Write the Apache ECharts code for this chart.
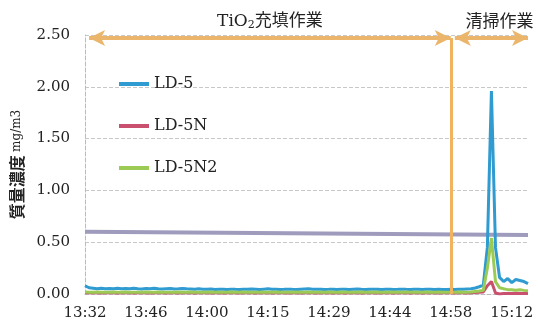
<!DOCTYPE html>
<html>
<head>
<meta charset="utf-8">
<script src="https://cdn.jsdelivr.net/npm/echarts@6/dist/echarts.min.js"></script>
<style>html,body{margin:0;padding:0;background:#fff}#c{width:538px;height:329px}</style>
</head>
<body>
<div id="c"></div>
<script>
// Tick labels (every 15 samples)
const tickLabels = ['13:32','13:46','14:00','14:15','14:29','14:44','14:58','15:12'];
const samplesPerTick = 15;
const sampleCount = 110;
const categories = [];
for (let i = 0; i < sampleCount; i++) {
  const t = Math.floor(i / samplesPerTick);
  categories.push(i % samplesPerTick === 0 ? tickLabels[t] : tickLabels[t] + '+' + (i % samplesPerTick));
}

const ld5 = [
  0.08,0.06,0.055,0.05,0.055,0.05,0.052,0.05,0.055,0.05,
  0.052,0.05,0.055,0.05,0.048,0.052,0.05,0.055,0.05,0.048,
  0.05,0.052,0.048,0.05,0.053,0.05,0.048,0.045,0.05,0.047,
  0.045,0.048,0.044,0.046,0.045,0.043,0.047,0.045,0.044,0.046,
  0.045,0.048,0.046,0.044,0.047,0.05,0.045,0.046,0.044,0.045,
  0.047,0.045,0.044,0.046,0.048,0.05,0.047,0.045,0.046,0.044,
  0.045,0.047,0.044,0.046,0.045,0.043,0.046,0.048,0.045,0.044,
  0.046,0.045,0.047,0.044,0.045,0.046,0.044,0.045,0.047,0.045,
  0.044,0.046,0.045,0.043,0.045,0.046,0.044,0.045,0.043,0.044,
  0.045,0.044,0.046,0.045,0.048,0.05,0.058,0.07,0.085,0.45,
  1.96,0.45,0.16,0.12,0.15,0.11,0.14,0.13,0.12,0.10
];
const ld5N = [
  0.012,0.012,0.011,0.012,0.010,0.012,0.011,0.012,0.010,0.011,
  0.012,0.011,0.010,0.012,0.011,0.012,0.010,0.011,0.012,0.011,
  0.010,0.012,0.011,0.010,0.012,0.011,0.012,0.010,0.011,0.012,
  0.011,0.010,0.012,0.011,0.010,0.012,0.011,0.012,0.010,0.011,
  0.012,0.011,0.010,0.012,0.011,0.012,0.010,0.011,0.012,0.011,
  0.010,0.012,0.011,0.010,0.012,0.011,0.012,0.010,0.011,0.012,
  0.011,0.010,0.012,0.011,0.010,0.012,0.011,0.012,0.010,0.011,
  0.012,0.011,0.010,0.012,0.011,0.012,0.010,0.011,0.012,0.011,
  0.010,0.012,0.011,0.010,0.012,0.011,0.012,0.010,0.011,0.012,
  0.011,0.010,0.012,0.011,0.010,0.012,0.014,0.016,0.02,0.08,
  0.12,0.01,0.0,0.004,0.006,0.005,0.007,0.006,0.005,0.006
];
const ld5N2 = [
  0.02,0.018,0.017,0.019,0.018,0.016,0.018,0.019,0.017,0.018,
  0.019,0.017,0.018,0.016,0.018,0.019,0.017,0.018,0.019,0.017,
  0.018,0.016,0.018,0.019,0.017,0.018,0.019,0.017,0.018,0.016,
  0.018,0.019,0.017,0.018,0.016,0.018,0.019,0.017,0.018,0.019,
  0.017,0.018,0.016,0.018,0.019,0.017,0.018,0.019,0.017,0.018,
  0.016,0.018,0.019,0.017,0.018,0.019,0.017,0.018,0.016,0.018,
  0.019,0.017,0.018,0.019,0.017,0.018,0.016,0.018,0.019,0.017,
  0.018,0.019,0.017,0.018,0.016,0.018,0.019,0.017,0.018,0.019,
  0.017,0.018,0.016,0.018,0.019,0.017,0.018,0.019,0.017,0.018,
  0.016,0.018,0.019,0.017,0.018,0.02,0.024,0.028,0.035,0.25,
  0.54,0.12,0.06,0.05,0.042,0.04,0.036,0.04,0.035,0.032
];
// Reference (limit) line endpoints
const refLine = [0.60, 0.57];
// Work period annotations: [startIndex, endIndex]
const fillPeriod = [0.7, 89.6];
const cleanPeriod = [91.4, 109];
const boundaryIndex = 90;
const arrowLevel = 2.47;

const serif = 'DejaVu Serif, Noto Sans CJK JP, serif';
const orange = '#ebb66c';

const chart = echarts.init(document.getElementById('c'), null, {renderer: 'canvas'});
chart.setOption({
  animation: false,
  backgroundColor: '#fff',
  grid: {left: 85, right: 10, top: 35, bottom: 35},
  legend: {
    orient: 'vertical', left: 114, top: 71, itemGap: 26,
    itemWidth: 30, itemHeight: 4, icon: 'rect',
    textStyle: {fontFamily: serif, fontSize: 16, color: '#222'},
    data: ['LD-5', 'LD-5N', 'LD-5N2']
  },
  xAxis: {
    type: 'category', data: categories, boundaryGap: false,
    axisLine: {lineStyle: {color: '#bbb', type: 'dashed'}},
    axisTick: {show: false},
    axisLabel: {interval: samplesPerTick - 1, fontFamily: serif, fontSize: 15, color: '#222', margin: 12},
    splitLine: {show: false}
  },
  yAxis: {
    type: 'value', min: 0, max: 2.5, interval: 0.5,
    name: '{a|質量濃度} {b|mg/m3}', nameLocation: 'middle', nameRotate: 90, nameGap: 60,
    nameTextStyle: {
      rich: {
        a: {fontFamily: 'Noto Sans CJK JP', fontWeight: 'bold', fontSize: 16, color: '#222'},
        b: {fontFamily: serif, fontSize: 12, color: '#222'}
      }
    },
    axisLine: {show: true, lineStyle: {color: '#bbb', type: 'dashed'}},
    axisTick: {show: false},
    axisLabel: {formatter: v => v.toFixed(2), fontFamily: serif, fontSize: 15, color: '#222', margin: 15},
    splitLine: {lineStyle: {color: '#c8c8c8', type: 'dashed'}}
  },
  series: [
    {
      name: 'ref', type: 'line', data: [[0, refLine[0]], [sampleCount - 1, refLine[1]]],
      symbol: 'none', lineStyle: {color: '#9e9bbd', width: 4}, clip: false, z: 1,
      markLine: {
        silent: true, symbol: ['arrow', 'arrow'], symbolSize: [12, 16],
        lineStyle: {color: orange, width: 4, type: 'solid'},
        label: {show: true, position: 'insideMiddleTop', distance: 7, color: '#222',
          rich: {
            t: {fontFamily: serif, fontSize: 17, color: '#222'},
            s: {fontFamily: serif, fontSize: 11, color: '#222', padding: [9, 0, 0, 0]}
          }
        },
        data: [
          [{coord: [fillPeriod[0], arrowLevel], label: {formatter: '{t|TiO}{s|2}{t|充填作業}'}},
           {coord: [fillPeriod[1], arrowLevel]}],
          [{coord: [cleanPeriod[0], arrowLevel], label: {formatter: '{t|清掃作業}', offset: [8, 0]}},
           {coord: [cleanPeriod[1], arrowLevel]}],
          [{coord: [boundaryIndex, arrowLevel], symbol: 'none', lineStyle: {width: 3, color: '#f0b460'}, label: {show: false}},
           {coord: [boundaryIndex, 0], symbol: 'none'}]
        ]
      }
    },
    {name: 'LD-5', type: 'line', data: ld5, symbol: 'none', color: '#2f9bd0', lineStyle: {width: 3}, z: 3},
    {name: 'LD-5N', type: 'line', data: ld5N, symbol: 'none', color: '#c9506e', lineStyle: {width: 3}, z: 3},
    {name: 'LD-5N2', type: 'line', data: ld5N2, symbol: 'none', color: '#9bcb55', lineStyle: {width: 3}, z: 3}
  ]
});
</script>
</body>
</html>
